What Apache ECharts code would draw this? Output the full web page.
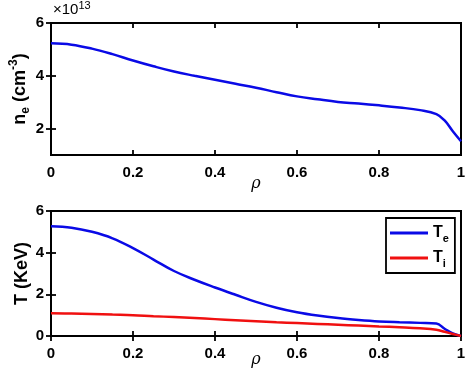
<!DOCTYPE html>
<html><head><meta charset="utf-8">
<script src="https://cdn.jsdelivr.net/npm/echarts@6/dist/echarts.min.js"></script>
<style>html,body{margin:0;padding:0;background:#fff}#c{width:472px;height:371px}</style>
</head><body><div id="c"></div>
<script>
const rho = [0,0.05,0.1,0.15,0.2,0.25,0.3,0.35,0.4,0.45,0.5,0.55,0.6,0.65,0.7,0.75,0.8,0.85,0.9,0.94,0.96,0.98,1.0];
const ne  = [5.23,5.18,5.03,4.82,4.58,4.36,4.16,4.0,3.85,3.7,3.55,3.38,3.22,3.11,3.01,2.95,2.88,2.8,2.7,2.55,2.31,1.9,1.52];
const Te  = [5.27,5.2,5.0,4.69,4.22,3.67,3.12,2.7,2.33,1.98,1.64,1.36,1.14,0.98,0.86,0.77,0.7,0.66,0.63,0.6,0.35,0.12,0.0];
const Ti  = [1.09,1.08,1.06,1.03,1.0,0.95,0.91,0.86,0.81,0.76,0.71,0.66,0.62,0.58,0.54,0.5,0.46,0.42,0.37,0.3,0.2,0.1,0.0];
const xTicks = [0,0.2,0.4,0.6,0.8,1];
const yTicksTop = [2,4,6];
const yTicksBot = [0,2,4,6];

const pair = (xs, ys) => xs.map((x,i)=>[x,ys[i]]);
const font = '"Liberation Sans", Arial, sans-serif';
const axLine = {show:true, lineStyle:{color:'#000', width:2}};
const tick = {show:true, inside:true, length:5, lineStyle:{color:'#000', width:1.8}};
const lbl = {color:'#000', fontFamily:font, fontWeight:'bold', fontSize:15};

function xAx(gi, top, gap){
  return {type:'value', gridIndex:gi, min:0, max:1, position: top?'top':'bottom',
    axisLine:axLine, axisTick:Object.assign({customValues:xTicks},tick),
    axisLabel: top?{show:false}:Object.assign({margin:10, customValues:xTicks}, lbl),
    splitLine:{show:false},
    name: top?'':'ρ', nameLocation:'middle', nameGap:gap||15, nameMoveOverlap:false,
    nameTextStyle:{fontFamily:'"DejaVu Serif", serif', fontStyle:'italic', fontSize:16, color:'#000'}};
}
function yAx(gi, right, min, max, ticks, name, gap){
  return {type:'value', gridIndex:gi, min:min, max:max, position: right?'right':'left',
    axisLine:axLine, axisTick:Object.assign({customValues:ticks},tick),
    axisLabel: right?{show:false}:Object.assign({margin:7, customValues:ticks}, lbl),
    splitLine:{show:false},
    name: right?'':name, nameLocation:'middle', nameGap:gap||18, nameMoveOverlap:false,
    nameTextStyle:{fontFamily:font, fontWeight:'bold', fontSize:18, lineHeight:24, color:'#000',
      rich:{sub:{fontFamily:font, fontWeight:'bold', fontSize:12, lineHeight:12, verticalAlign:'bottom'},
            sup:{fontFamily:font, fontWeight:'bold', fontSize:12, lineHeight:12, verticalAlign:'top'}}}};
}
const lineBlue = {color:'#0a0ae6', width:2.5};
const lineRed = {color:'#f01010', width:2.5};
const hidden = {opacity:0};

const chart = echarts.init(document.getElementById('c'), null, {renderer:'canvas'});
chart.setOption({
  animation:false,
  backgroundColor:'#fff',
  grid:[{left:51, right:11, top:23, height:132, outerBoundsMode:'none', show:true, borderColor:'#000', borderWidth:2},
        {left:51, right:11, top:211, height:125, outerBoundsMode:'none', show:true, borderColor:'#000', borderWidth:2}],
  xAxis:[xAx(0,false,21), xAx(0,true), xAx(1,false,16), xAx(1,true)],
  yAxis:[yAx(0,false,1,6,yTicksTop,'n{sub|e} (cm{sup|-3})',19), yAx(0,true,1,6,yTicksTop,''),
         yAx(1,false,0,6,yTicksBot,'T (KeV)',17), yAx(1,true,0,6,yTicksBot,'')],
  legend:{show:true, data:['Te','Ti'], orient:'vertical', left:386, top:218,
    icon:'rect', itemWidth:38, itemHeight:3, itemGap:3, padding:[4,6,4,4],
    borderColor:'#000', borderWidth:1.8, backgroundColor:'#fff',
    formatter: n => n==='Te' ? 'T{sub|e}' : 'T{sub|i}',
    textStyle:{fontFamily:font, fontWeight:'bold', fontSize:16, lineHeight:22, color:'#000',
      rich:{sub:{fontFamily:font, fontWeight:'bold', fontSize:11, lineHeight:11, verticalAlign:'bottom'}}}},
  graphic:[{type:'text', left:53, top:0, style:{text:'×10{sup|13}', fill:'#000',
    font:'15px '+font, lineHeight:20, rich:{sup:{fontSize:11, lineHeight:11, fontFamily:font, verticalAlign:'top'}}}}],
  series:[
    {name:'ne', type:'line', xAxisIndex:0, yAxisIndex:0, data:pair(rho,ne), symbol:'none', smooth:0.4,
      lineStyle:lineBlue, itemStyle:{color:lineBlue.color}},
    {name:'Te', type:'line', xAxisIndex:2, yAxisIndex:2, data:pair(rho,Te), symbol:'none', smooth:0.4,
      lineStyle:lineBlue, itemStyle:{color:lineBlue.color}},
    {name:'Ti', type:'line', xAxisIndex:2, yAxisIndex:2, data:pair(rho,Ti), symbol:'none', smooth:0.4,
      lineStyle:lineRed, itemStyle:{color:lineRed.color}},
    {name:'ne_mirror', type:'line', xAxisIndex:1, yAxisIndex:1, data:pair(rho,ne), symbol:'none', silent:true,
      lineStyle:hidden, tooltip:{show:false}},
    {name:'Te_mirror', type:'line', xAxisIndex:3, yAxisIndex:3, data:pair(rho,Te), symbol:'none', silent:true,
      lineStyle:hidden, tooltip:{show:false}}
  ]
});
</script></body></html>
